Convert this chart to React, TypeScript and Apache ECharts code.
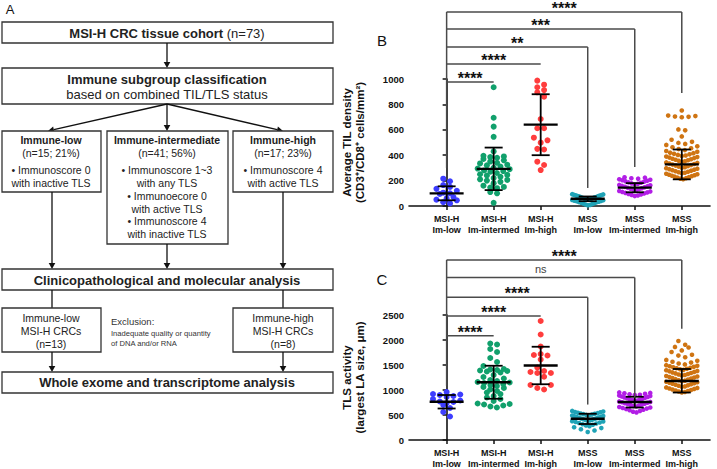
import React, { useEffect, useRef } from "react";
import * as echarts from "echarts";

const FONT = "'Liberation Sans', Arial, Helvetica, sans-serif";

// ---------- categories ----------
const categories = ["MSI-H\nIm-low", "MSI-H\nIm-intermed", "MSI-H\nIm-high", "MSS\nIm-low", "MSS\nIm-intermed", "MSS\nIm-high"];
const groupColors = ["#3d3dff", "#11a06c", "#ff3d3d", "#1fa3b6", "#b21ee6", "#cf7412"];

// ---------- Panel B: Average TIL density ----------
const tilMsiLow = [215, 195, 165, 150, 135, 120, 105, 100, 95, 70, 60, 50, 45, 30, 20];
const tilMsiInt = [935, 695, 625, 545, 430, 395, 390, 385, 380, 370, 360, 350, 340, 335, 325, 320, 310, 300, 295, 290, 280, 275, 270, 260, 250, 245, 240, 230, 220, 210, 205, 200, 190, 180, 160, 150, 145, 140, 110, 100, 25];
const tilMsiHigh = [987, 955, 935, 913, 895, 861, 685, 612, 612, 538, 517, 499, 450, 445, 349, 323, 283];
const tilMssLow = [93, 91, 88, 86, 85, 82, 80, 79, 76, 73, 72, 69, 67, 66, 63, 61, 58, 57, 54, 52, 50, 47, 45, 42, 40, 38, 34, 31, 29, 25, 22, 19, 15, 12, 8, 5];
const tilMssInt = [226, 223, 218, 215, 210, 207, 203, 198, 195, 191, 186, 183, 178, 175, 171, 166, 163, 158, 155, 151, 147, 143, 139, 135, 131, 127, 123, 119, 115, 111, 107, 103, 99, 95, 91, 87, 83, 78];
const tilMssHigh = [752, 712, 708, 705, 702, 699, 603, 596, 548, 522, 505, 497, 489, 481, 470, 462, 455, 448, 440, 433, 427, 420, 416, 411, 407, 402, 398, 394, 389, 385, 381, 377, 372, 368, 364, 360, 356, 352, 347, 343, 339, 335, 331, 326, 322, 318, 314, 310, 306, 302, 298, 294, 290, 286, 282, 278, 274, 270, 266, 262, 258, 254, 250, 246, 242, 238, 235, 231, 227, 223, 219, 215, 211];
const tilMean = [100, 293, 640, 57, 145, 328];
const tilLow = [45, 125, 400, 38, 108, 210];
const tilHigh = [155, 460, 880, 75, 180, 445];
const tilBracketEnd = [5, 4, 3, 2, 1];
const tilBracketLevel = [1528, 1394, 1252, 1118, 976];
const tilBracketDrop = [890, 307, 142, -1, -1];
const tilBracketLabel = ["****", "***", "**", "****", "****"];
const tilBracketBase = 300;

// ---------- Panel C: TLS activity ----------
const tlsMsiLow = [960, 920, 910, 900, 880, 860, 820, 790, 770, 760, 740, 700, 640, 560, 470];
const tlsMsiInt = [1930, 1910, 1820, 1760, 1640, 1560, 1480, 1420, 1410, 1400, 1390, 1380, 1370, 1350, 1300, 1260, 1230, 1200, 1180, 1160, 1150, 1140, 1120, 1100, 1080, 1060, 1040, 1010, 980, 950, 920, 880, 850, 820, 780, 730, 720, 710, 690, 670, 650];
const tlsMsiHigh = [2380, 2110, 1870, 1720, 1700, 1690, 1610, 1450, 1380, 1360, 1340, 1340, 1265, 1100, 1100, 1040, 1010];
const tlsMssLow = [582, 571, 561, 554, 546, 537, 531, 523, 517, 508, 502, 494, 488, 479, 473, 465, 458, 450, 444, 436, 429, 421, 415, 407, 400, 392, 385, 376, 369, 359, 350, 339, 329, 316, 304, 289, 274, 256, 238, 215, 190, 160];
const tlsMssInt = [952, 942, 934, 924, 916, 906, 898, 888, 880, 870, 862, 852, 844, 834, 826, 816, 808, 798, 790, 780, 772, 762, 754, 744, 736, 726, 718, 708, 700, 689, 680, 669, 660, 649, 640, 628, 618, 605, 594, 580, 567, 552];
const tlsMssHigh = [1980, 1905, 1862, 1850, 1792, 1760, 1705, 1688, 1655, 1602, 1585, 1566, 1548, 1530, 1512, 1497, 1486, 1476, 1465, 1456, 1444, 1435, 1424, 1414, 1403, 1394, 1382, 1373, 1362, 1352, 1341, 1332, 1320, 1311, 1300, 1290, 1279, 1270, 1258, 1249, 1238, 1228, 1217, 1208, 1196, 1187, 1176, 1166, 1155, 1146, 1134, 1125, 1114, 1104, 1093, 1084, 1072, 1063, 1052, 1042, 1031, 1022, 1010, 1001, 990, 980, 969, 960, 950];
const tlsMean = [765, 1155, 1490, 425, 760, 1180];
const tlsLow = [630, 825, 1115, 320, 650, 950];
const tlsHigh = [900, 1485, 1865, 525, 865, 1420];
const tlsBracketEnd = [5, 4, 3, 2, 1];
const tlsBracketLevel = [3602, 3248, 2854, 2480, 2087];
const tlsBracketDrop = [2224, 846, 709, -1, -1];
const tlsBracketLabel = ["****", "ns", "****", "****", "****"];
const tlsBracketBase = 1083;

// ---------- layout ----------
const X_MIN = -0.8, X_MAX = 5.6, PLOT_W = 301, PLOT_H = 127;
const PX_PER_X = PLOT_W / (X_MAX - X_MIN);

function swarm(values: number[], gi: number, unitsPerPx: number, dense: boolean) {
  const s = [...values].sort((a, b) => a - b);
  const out: number[][] = [];
  const binPx = dense ? 5.5 : 5, maxHalf = dense ? 15.5 : 16, stepPx = 6.8;
  let i = 0;
  while (i < s.length) {
    const start = s[i];
    let j = i;
    while (j < s.length && s[j] - start < binPx * unitsPerPx) j++;
    const bin = s.slice(i, j);
    const n = bin.length;
    const half = (n - 1) / 2;
    const step = half > 0 ? Math.min(stepPx, maxHalf / half) : 0;
    bin.forEach((v, k) => {
      let pos: number;
      if (n % 2 === 1) pos = k === 0 ? 0 : (k % 2 === 1 ? Math.ceil(k / 2) : -Math.ceil(k / 2));
      else { const m = Math.floor(k / 2) + 0.5; pos = k % 2 === 0 ? m : -m; }
      out.push([gi + (pos * step) / PX_PER_X, v]);
    });
    i = j;
  }
  return out;
}

function errorBarSeries(idx: number, mean: number[], lo: number[], hi: number[]) {
  return {
    type: "custom", xAxisIndex: idx, yAxisIndex: idx, z: 5, silent: true,
    data: mean.map((m, i) => [i, m, lo[i], hi[i]]),
    renderItem: (params: any, api: any) => {
      const x = api.value(0);
      const pm = api.coord([x, api.value(1)]);
      const pl = api.coord([x, api.value(2)]);
      const ph = api.coord([x, api.value(3)]);
      const st = { stroke: "#000", lineWidth: 1.8 };
      return {
        type: "group",
        children: [
          { type: "line", shape: { x1: pm[0] - 17, y1: pm[1], x2: pm[0] + 17, y2: pm[1] }, style: { stroke: "#000", lineWidth: 2.3 } },
          { type: "line", shape: { x1: pl[0], y1: pl[1], x2: ph[0], y2: ph[1] }, style: st },
          { type: "line", shape: { x1: pl[0] - 9, y1: pl[1], x2: pl[0] + 9, y2: pl[1] }, style: st },
          { type: "line", shape: { x1: ph[0] - 9, y1: ph[1], x2: ph[0] + 9, y2: ph[1] }, style: st },
        ],
      };
    },
  };
}

function bracketSeries(idx: number, ends: number[], levels: number[], drops: number[], labels: string[], base: number) {
  return {
    type: "custom", xAxisIndex: idx, yAxisIndex: idx, z: 6, silent: true, clip: false,
    data: ends.map((e, i) => [e, levels[i], drops[i], i]),
    renderItem: (params: any, api: any) => {
      const xe = api.value(0), lv = api.value(1), dr = api.value(2), i = api.value(3);
      const p0 = api.coord([0, lv]);
      const p1 = api.coord([xe, lv]);
      const st = { stroke: "#4a4a4a", lineWidth: 1.5 };
      const children: any[] = [
        { type: "line", shape: { x1: p0[0], y1: p0[1], x2: p1[0], y2: p1[1] }, style: st },
      ];
      if (dr >= 0) {
        const pd = api.coord([xe, dr]);
        children.push({ type: "line", shape: { x1: p1[0], y1: p1[1], x2: pd[0], y2: pd[1] }, style: st });
      }
      if (i === 0) {
        const pb = api.coord([0, base]);
        children.push({ type: "line", shape: { x1: p0[0], y1: p0[1], x2: pb[0], y2: pb[1] }, style: st });
      }
      const lab = labels[i];
      const isNs = lab === "ns";
      children.push({
        type: "text",
        x: (p0[0] + p1[0]) / 2,
        y: p0[1] - (isNs ? 9 : 3.5),
        style: {
          text: lab, fill: isNs ? "#444" : "#111", fontFamily: FONT,
          fontSize: isNs ? 11 : 16, fontWeight: isNs ? "normal" : "bold",
          align: "center", verticalAlign: "middle", textAlign: "center", textVerticalAlign: "middle",
        },
      });
      return { type: "group", children };
    },
  };
}

function xAxisDef(idx: number) {
  return {
    gridIndex: idx, type: "value", min: X_MIN, max: X_MAX,
    axisLine: { show: true, lineStyle: { color: "#111", width: 1.6 } },
    axisTick: { show: true, customValues: [0, 1, 2, 3, 4, 5], length: 4, lineStyle: { color: "#111", width: 1.5 } },
    axisLabel: {
      customValues: [0, 1, 2, 3, 4, 5], formatter: (v: number) => categories[Math.round(v)],
      fontFamily: FONT, fontWeight: "bold", fontSize: 9, color: "#111", lineHeight: 11, margin: 7,
    },
    splitLine: { show: false },
  };
}

function yAxisDef(idx: number, max: number, interval: number, name: string) {
  return {
    gridIndex: idx, type: "value", min: 0, max, interval,
    name, nameLocation: "middle", nameGap: 43, nameRotate: 90,
    nameTextStyle: { fontFamily: FONT, fontWeight: "bold", fontSize: 11.5, color: "#111", lineHeight: 13 },
    axisLine: { show: true, lineStyle: { color: "#111", width: 1.6 } },
    axisTick: { show: true, length: 4, lineStyle: { color: "#111", width: 1.5 } },
    axisLabel: { fontFamily: FONT, fontWeight: "bold", fontSize: 9.5, color: "#111", margin: 5, formatter: (v: number) => String(v) },
    splitLine: { show: false },
  };
}

// ---------- flowchart helpers ----------
const STROKE = "#333";
function box(x1: number, y1: number, x2: number, y2: number) {
  return { type: "rect", shape: { x: x1, y: y1, width: x2 - x1, height: y2 - y1 }, style: { fill: "#fff", stroke: STROKE, lineWidth: 1.3 } };
}
function txt(t: string, x: number, y: number, size: number, bold = false, align = "center", color = "#222") {
  return {
    type: "text", x, y,
    style: { text: t, fill: color, fontFamily: FONT, fontSize: size, fontWeight: bold ? "bold" : "normal", align, verticalAlign: "middle", textAlign: align, textVerticalAlign: "middle" },
  };
}
function arrow(x1: number, y1: number, x2: number, y2: number, head = true) {
  const els: any[] = [];
  const dx = x2 - x1, dy = y2 - y1, len = Math.hypot(dx, dy);
  const ux = dx / len, uy = dy / len;
  const hl = head ? 6 : 0, hw = 3.3;
  els.push({ type: "line", shape: { x1, y1, x2: x2 - ux * hl, y2: y2 - uy * hl }, style: { stroke: "#111", lineWidth: 1.3 } });
  if (head) {
    const bx = x2 - ux * hl, by = y2 - uy * hl;
    els.push({ type: "polygon", shape: { points: [[x2, y2], [bx - uy * hw, by + ux * hw], [bx + uy * hw, by - ux * hw]] }, style: { fill: "#111" } });
  }
  return els;
}

const flow: any[] = [
  txt("A", 10, 9, 13, false, "center", "#111"),
  box(2, 22, 333, 43),
  {
    type: "text", x: 167, y: 33,
    style: {
      text: "{b|MSI-H CRC tissue cohort} (n=73)", fill: "#222", fontFamily: FONT, fontSize: 13,
      align: "center", verticalAlign: "middle", textAlign: "center", textVerticalAlign: "middle",
      rich: { b: { fontWeight: "bold", fontFamily: FONT, fontSize: 13, fill: "#222" } },
    },
  },
  ...arrow(167, 43, 167, 68),
  box(2, 68, 333, 104),
  txt("Immune subgroup classification", 167, 79, 13, true),
  txt("based on combined TIL/TLS status", 167, 94, 13),
  ...arrow(167, 104, 48, 131),
  ...arrow(167, 104, 167, 131),
  ...arrow(167, 104, 283, 131),
  box(2, 131, 101, 192),
  txt("Immune-low", 51, 139.5, 10.5, true),
  txt("(n=15; 21%)", 51, 153, 10.5),
  txt("• Immunoscore 0", 51, 170, 10.5),
  txt("with inactive TLS", 51, 183, 10.5),
  box(107, 131, 228, 244),
  txt("Immune-intermediate", 167, 139.5, 10.5, true),
  txt("(n=41; 56%)", 167, 153, 10.5),
  txt("• Immunoscore 1~3", 167, 170, 10.5),
  txt("with any TLS", 167, 183, 10.5),
  txt("• Immunoecore 0", 167, 196, 10.5),
  txt("with active TLS", 167, 208.5, 10.5),
  txt("• Immunoscore 4", 167, 221, 10.5),
  txt("with inactive TLS", 167, 234, 10.5),
  box(233, 131, 333, 192),
  txt("Immune-high", 283, 139.5, 10.5, true),
  txt("(n=17; 23%)", 283, 153, 10.5),
  txt("• Immunoscore 4", 283, 170, 10.5),
  txt("with active TLS", 283, 183, 10.5),
  ...arrow(52, 192, 52, 269),
  ...arrow(167, 244, 167, 269),
  ...arrow(283, 192, 283, 269),
  box(2, 269, 333, 290),
  txt("Clinicopathological and molecular analysis", 167, 280, 13, true),
  ...arrow(52, 290, 52, 308, false),
  ...arrow(283, 290, 283, 308, false),
  box(2, 308, 101, 352),
  txt("Immune-low", 51, 318, 10.5),
  txt("MSI-H CRCs", 51, 331, 10.5),
  txt("(n=13)", 51, 344, 10.5),
  txt("Exclusion:", 111, 321, 9.5, false, "left", "#333"),
  txt("Inadequate quality or quantity", 111, 333, 7.6, false, "left", "#333"),
  txt("of DNA and/or RNA", 111, 343, 7.6, false, "left", "#333"),
  box(233, 308, 333, 352),
  txt("Immune-high", 283, 318, 10.5),
  txt("MSI-H CRCs", 283, 331, 10.5),
  txt("(n=8)", 283, 344, 10.5),
  ...arrow(52, 352, 52, 372),
  ...arrow(283, 352, 283, 372),
  box(2, 372, 333, 393),
  txt("Whole exome and transcriptome analysis", 167, 382.5, 13, true),
  txt("B", 382, 40, 15, false, "center", "#111"),
  txt("C", 382, 279, 15, false, "center", "#111"),
];

const tilGroups = [tilMsiLow, tilMsiInt, tilMsiHigh, tilMssLow, tilMssInt, tilMssHigh];
const tlsGroups = [tlsMsiLow, tlsMsiInt, tlsMsiHigh, tlsMssLow, tlsMssInt, tlsMssHigh];

const scatterSeries = (idx: number, groups: number[][], unitsPerPx: number) =>
  groups.map((g, gi) => ({
    type: "scatter", xAxisIndex: idx, yAxisIndex: idx, silent: true,
    symbol: "circle", symbolSize: gi >= 3 ? 4.6 : 6,
    itemStyle: { color: groupColors[gi], opacity: 1 },
    data: swarm(g, gi, unitsPerPx, gi >= 3),
  }));

const option: any = {
  animation: false,
  backgroundColor: "#fff",
  grid: [
    { left: 409, top: 79, width: PLOT_W, height: PLOT_H },
    { left: 409, top: 315, width: PLOT_W, height: PLOT_H },
  ],
  xAxis: [xAxisDef(0), xAxisDef(1)],
  yAxis: [
    yAxisDef(0, 1000, 200, "Average TIL density\n(CD3⁺/CD8⁺ cells/mm²)"),
    yAxisDef(1, 2500, 500, "TLS activity\n(largest LA size, μm)"),
  ],
  series: [
    ...scatterSeries(0, tilGroups, 1000 / PLOT_H),
    ...scatterSeries(1, tlsGroups, 2500 / PLOT_H),
    errorBarSeries(0, tilMean, tilLow, tilHigh),
    errorBarSeries(1, tlsMean, tlsLow, tlsHigh),
    bracketSeries(0, tilBracketEnd, tilBracketLevel, tilBracketDrop, tilBracketLabel, tilBracketBase),
    bracketSeries(1, tlsBracketEnd, tlsBracketLevel, tlsBracketDrop, tlsBracketLabel, tlsBracketBase),
  ],
  graphic: { elements: flow },
};

export default function App() {
  const ref = useRef<HTMLDivElement>(null);
  useEffect(() => {
    const chart = echarts.init(ref.current!, null, { renderer: "svg" });
    chart.setOption(option);
    return () => chart.dispose();
  }, []);
  return <div ref={ref} style={{ position: "fixed", left: 0, top: 0, width: 717, height: 469, background: "#fff" }} />;
}
